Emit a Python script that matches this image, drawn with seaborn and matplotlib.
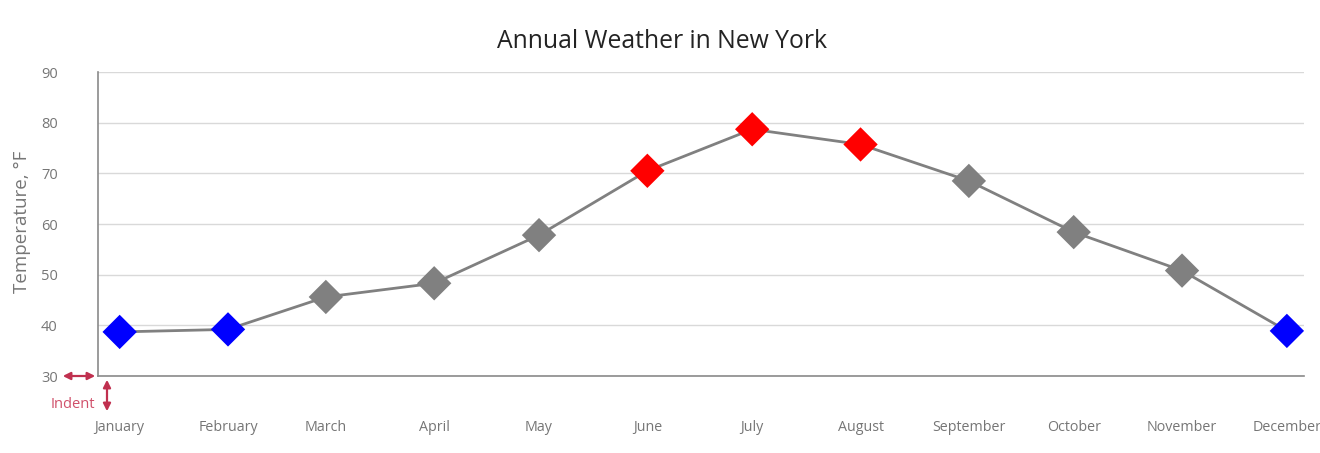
import matplotlib
matplotlib.use("Agg")
import matplotlib.pyplot as plt
import matplotlib.dates as mdates
import seaborn as sns
import pandas as pd

months = ["January", "February", "March", "April", "May", "June",
          "July", "August", "September", "October", "November", "December"]
temps = [38.7, 39.2, 45.6, 48.3, 57.8, 70.5, 78.7, 75.7, 68.5, 58.4, 50.8, 38.9]
yticks = [30, 40, 50, 60, 70, 80, 90]

dates = pd.to_datetime([f"2017-{i+1:02d}-01" for i in range(12)])

def band(t):
    if t < 40:
        return "cold"
    if t > 70:
        return "hot"
    return "mild"

df = pd.DataFrame({"date": dates, "month": months, "temp": temps})
df["band"] = [band(t) for t in temps]
palette = {"cold": "#0000ff", "hot": "#ff0000", "mild": "#808080"}

sns.set_style("white")
plt.rcParams['font.family'] = ['Open Sans', 'DejaVu Sans']

fig = plt.figure(figsize=(13.2, 4.53), dpi=100)
ax = fig.add_axes([98/1320, 1-376/453, (1304-98)/1320, (376-72)/453])

sns.lineplot(data=df, x="date", y="temp", color="#808080", linewidth=2.0, ax=ax, zorder=2)
sns.scatterplot(data=df, x="date", y="temp", hue="band", palette=palette, marker="D",
                s=17.5**2, linewidth=0, ax=ax, legend=False, zorder=3)

x0 = mdates.date2num(dates[0]) - 6.2
x1 = mdates.date2num(dates[-1]) + 4.9
ax.set_xlim(x0, x1)
ax.set_ylim(30, 90)
ax.set_yticks(yticks)
ax.set_yticklabels([str(v) for v in yticks])
ax.set_xticks(dates)
ax.set_xticklabels(months)

ax.grid(axis="y", color="#d9d9d9", linewidth=1)
ax.grid(axis="x", visible=False)
ax.set_axisbelow(True)
for s in ["top", "right"]:
    ax.spines[s].set_visible(False)
for s in ["left", "bottom"]:
    ax.spines[s].set_color("#8a8a8a")
    ax.spines[s].set_linewidth(1.2)

ax.tick_params(axis="y", length=6, width=1, color="#8a8a8a", pad=23,
               labelsize=10.5, labelcolor="#767676")
ax.tick_params(axis="x", length=6, width=1, color="#8a8a8a", pad=26,
               labelsize=10.3, labelcolor="#767676")

ax.set_xlabel("")
ax.set_ylabel("")
fig.text(22/1320, 1-222/453, "Temperature, °F", rotation=90, ha="center", va="center",
         fontsize=13.5, color="#767676")

fig.text(662/1320, 1-42/453, "Annual Weather in New York", ha="center", va="center",
         fontsize=17.8, color="#232323")

# Indent annotation
red = "#c0304f"
fig.add_artist(matplotlib.patches.FancyArrowPatch(
    (60/1320, 1-376/453), (98/1320, 1-376/453), transform=fig.transFigure,
    arrowstyle="<|-|>", mutation_scale=11, color=red, linewidth=1.6))
fig.add_artist(matplotlib.patches.FancyArrowPatch(
    (107/1320, 1-377/453), (107/1320, 1-414/453), transform=fig.transFigure,
    arrowstyle="<|-|>", mutation_scale=11, color=red, linewidth=1.6))
fig.text(73/1320, 1-405/453, "Indent", ha="center", va="center", fontsize=10.5, color="#d0506a")

fig.savefig("out.png", dpi=100)
